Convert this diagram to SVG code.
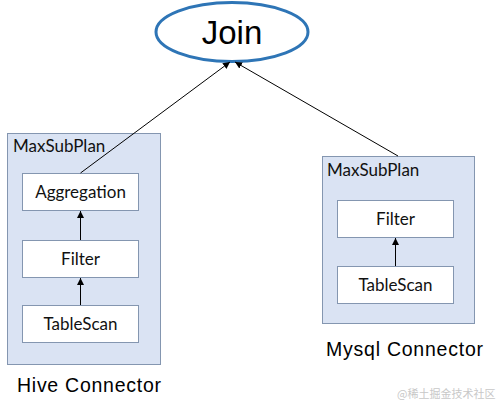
<svg xmlns="http://www.w3.org/2000/svg" width="504" height="409" viewBox="0 0 504 409">
<style>
.cont{fill:#dae3f3;stroke:#8496b0;stroke-width:1}
.box{fill:#ffffff;stroke:#8496b0;stroke-width:1}
.lbl{font-family:Lato,"Open Sans","Liberation Sans",sans-serif;font-size:17px;fill:#111}
.big{font-family:"Liberation Sans",Arial,sans-serif;fill:#000}
.conn{stroke:#000;stroke-width:1;fill:none;marker-end:url(#ah)}
</style>
<defs>
<marker id="ah" viewBox="0 0 10 10" refX="10" refY="5" markerWidth="7" markerHeight="7" orient="auto" markerUnits="userSpaceOnUse">
<path d="M0,0 L10,5 L0,10 z" fill="#000"/>
</marker>
</defs>
<rect width="504" height="409" fill="#ffffff"/>
<g id="hive-plan">
<rect class="cont" x="7.5" y="133.5" width="153" height="231"/>
<text class="lbl" x="13" y="152">MaxSubPlan</text>
</g>
<g id="mysql-plan">
<rect class="cont" x="322.5" y="156.5" width="152" height="167"/>
<text class="lbl" x="327" y="176">MaxSubPlan</text>
</g>
<g id="join">
<ellipse cx="232" cy="32" rx="76" ry="29.5" fill="#ffffff" stroke="#2e75b6" stroke-width="3"/>
<text class="big" x="232" y="44" font-size="33" text-anchor="middle">Join</text>
</g>
<g id="hive-aggregation">
<rect class="box" x="22.5" y="173.5" width="116" height="37"/>
<text class="lbl" x="80.5" y="198" text-anchor="middle">Aggregation</text>
</g>
<g id="hive-filter">
<rect class="box" x="22.5" y="240.5" width="116" height="37"/>
<text class="lbl" x="80.5" y="265" text-anchor="middle">Filter</text>
</g>
<g id="hive-tablescan">
<rect class="box" x="22.5" y="305.5" width="116" height="37"/>
<text class="lbl" x="80.5" y="330" text-anchor="middle">TableScan</text>
</g>
<g id="mysql-filter">
<rect class="box" x="337.5" y="200.5" width="116" height="37"/>
<text class="lbl" x="395.5" y="225" text-anchor="middle">Filter</text>
</g>
<g id="mysql-tablescan">
<rect class="box" x="337.5" y="266.5" width="116" height="37"/>
<text class="lbl" x="395.5" y="291" text-anchor="middle">TableScan</text>
</g>
<g id="connectors">
<line class="conn" x1="80.5" y1="173" x2="230" y2="62"/>
<line class="conn" x1="398" y1="156" x2="235" y2="62"/>
<line class="conn" x1="80.5" y1="240" x2="80.5" y2="211"/>
<line class="conn" x1="80.5" y1="305" x2="80.5" y2="278"/>
<line class="conn" x1="395.5" y1="266" x2="395.5" y2="238"/>
</g>
<g id="labels">
<text class="big" x="17" y="392" font-size="19.5" textLength="144" lengthAdjust="spacing">Hive Connector</text>
<text class="big" x="326" y="356" font-size="19.5" textLength="157" lengthAdjust="spacing">Mysql Connector</text>
<text x="397" y="398" font-family="'Noto Sans CJK SC',sans-serif" font-size="11" fill="#c8c8c8">@稀土掘金技术社区</text>
</g>
</svg>
